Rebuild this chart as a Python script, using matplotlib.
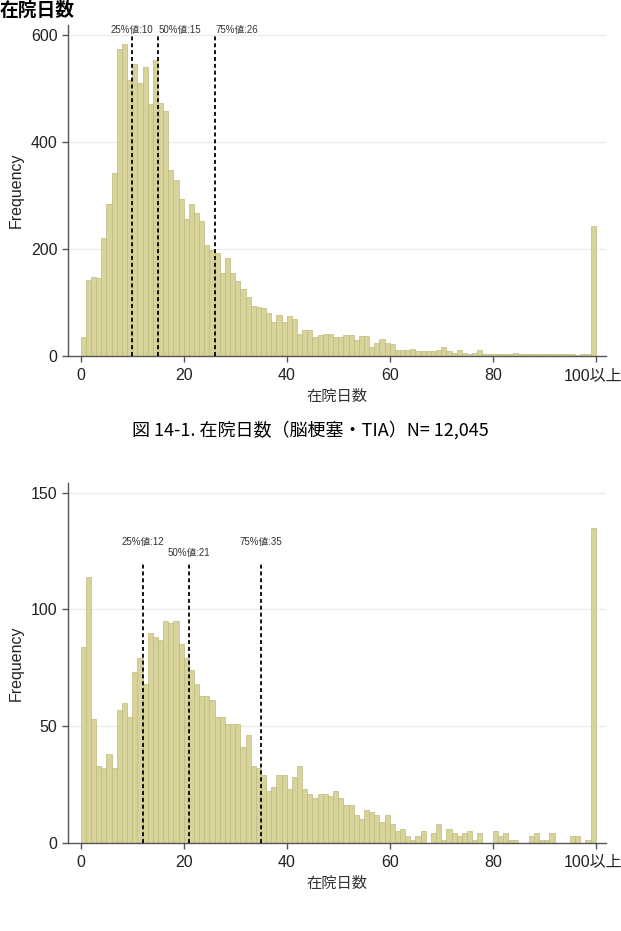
import numpy as np
import matplotlib
matplotlib.use("Agg")
import matplotlib.pyplot as plt

# --------------------------------------------------------
# Data (1-day bins)
# --------------------------------------------------------

days = np.arange(100)  # bin left edges; the last bin is "100以上"

counts_stroke = [
    36, 142, 148, 145, 221, 285, 343, 575, 583, 517,
    546, 510, 540, 471, 553, 474, 458, 348, 330, 293,
    257, 285, 268, 252, 207, 199, 192, 155, 183, 155,
    141, 126, 111, 93, 92, 89, 80, 64, 77, 64,
    75, 69, 42, 49, 49, 35, 40, 42, 42, 35,
    35, 39, 39, 29, 37, 37, 17, 25, 31, 25,
    22, 12, 12, 11, 14, 10, 10, 10, 10, 12,
    16, 9, 6, 11, 6, 3, 5, 11, 4, 4,
    4, 4, 3, 3, 6, 4, 3, 3, 3, 3,
    3, 4, 4, 3, 3, 3, 2, 3, 3, 243,
]

counts_second = [
    84, 114, 53, 33, 32, 38, 32, 57, 60, 54,
    73, 79, 68, 90, 88, 87, 95, 94, 95, 85,
    79, 74, 68, 63, 63, 61, 54, 54, 51, 51,
    51, 41, 46, 33, 32, 29, 22, 24, 29, 29,
    23, 28, 33, 23, 21, 19, 21, 21, 20, 22,
    19, 16, 16, 12, 10, 14, 13, 12, 9, 12,
    8, 5, 6, 3, 1, 3, 5, 0, 4, 8,
    1, 6, 4, 3, 4, 5, 1, 4, 0, 0,
    5, 3, 4, 1, 1, 0, 0, 3, 4, 1,
    1, 4, 0, 0, 0, 3, 3, 0, 1, 135,
]

xtick_vals = [0, 20, 40, 60, 80, 100]
xtick_labels = ["0", "20", "40", "60", "80", "100以上"]

pct_names = ["25%値", "50%値", "75%値"]
pct_stroke = [10, 15, 26]
pct_second = [12, 21, 35]

yticks_stroke = [0, 200, 400, 600]
yticks_second = [0, 50, 100, 150]

BAR_FILL = "#D7D39A"
BAR_EDGE = "#BFBA7C"
AXIS_COL = "#555555"
TEXT_COL = "#222222"

LATIN = ["Liberation Sans", "Noto Sans CJK JP"]
CJK = ["Noto Sans CJK JP", "DejaVu Sans"]

TICK_LEN = 4
TICK_PAD = 4.5


def draw_hist(ax, counts, yticks, ymax):
    ax.bar(days, counts, width=1.0, align="edge",
           color=BAR_FILL, edgecolor=BAR_EDGE, linewidth=0.5, zorder=2)

    ax.set_xlim(-2.47, 102.0)
    ax.set_ylim(0, ymax)

    # light horizontal grid
    for y in yticks[1:]:
        ax.axhline(y, color="#EBEBEB", linewidth=0.9, zorder=0)

    for side in ["top", "right"]:
        ax.spines[side].set_visible(False)
    for side in ["left", "bottom"]:
        ax.spines[side].set_color(AXIS_COL)
        ax.spines[side].set_linewidth(1.0)

    ax.set_yticks(yticks)
    ax.set_yticklabels([str(v) for v in yticks], family=LATIN, fontsize=11.5,
                       color=TEXT_COL)
    ax.set_xticks(xtick_vals)
    # last label is drawn by hand so it can be nudged left of the figure edge
    ax.set_xticklabels(xtick_labels[:-1] + [""], family=LATIN, fontsize=11.5,
                       color=TEXT_COL)
    ax.annotate(xtick_labels[-1], xy=(xtick_vals[-1], 0),
                xycoords=("data", "axes fraction"),
                xytext=(-2.2, -(TICK_LEN + TICK_PAD)), textcoords="offset points",
                ha="center", va="top", family=LATIN, fontsize=11.5,
                color=TEXT_COL, annotation_clip=False)
    ax.tick_params(axis="both", direction="out", length=TICK_LEN, width=1.0,
                   color=AXIS_COL)
    ax.tick_params(axis="x", pad=TICK_PAD)

    ax.set_ylabel("Frequency", family=LATIN, fontsize=11.5, color=TEXT_COL,
                  labelpad=5)
    ax.set_xlabel("在院日数", family=CJK, fontsize=11, color="#333333",
                  labelpad=4)


def draw_pct_lines(ax, values, y_top, label_pos):
    for name, v, (lx, ly, ha) in zip(pct_names, values, label_pos):
        ax.plot([v, v], [0, y_top], color="black", linewidth=1.3,
                linestyle=(0, (2.2, 1.6)), zorder=3)
        ax.text(lx, ly, f"{name}:{v}", ha=ha, va="center", fontsize=7,
                family=LATIN, color="#333333", zorder=4)


fig = plt.figure(figsize=(6.21, 9.31), dpi=100)
fig.patch.set_facecolor("white")

# panel title at the very top edge
fig.text(0.0, 1 - 16 / 931, "在院日数", family=CJK, fontsize=13.5,
         fontweight="bold", ha="left", va="baseline", color="black")

# --- top panel ---
ax1 = fig.add_axes([68 / 621, 1 - 356 / 931, 538 / 621, 331 / 931])
draw_hist(ax1, counts_stroke, yticks_stroke, 619)
draw_pct_lines(ax1, pct_stroke, 600,
               [(10, 609, "center"), (19.2, 609, "center"), (30.3, 609, "center")])

fig.text(0.5, 1 - 430 / 931, "図 14-1. 在院日数（脳梗塞・TIA）N= 12,045",
         family=CJK, fontsize=13, ha="center", va="center", color="black")

# --- bottom panel ---
ax2 = fig.add_axes([68 / 621, 1 - 842.7 / 931, 538 / 621, 359.4 / 931])
draw_hist(ax2, counts_second, yticks_second, 154)
draw_pct_lines(ax2, pct_second, 120,
               [(12, 129, "center"), (21, 124, "center"), (35, 129, "center")])

fig.savefig("out.png", dpi=100, facecolor="white")
